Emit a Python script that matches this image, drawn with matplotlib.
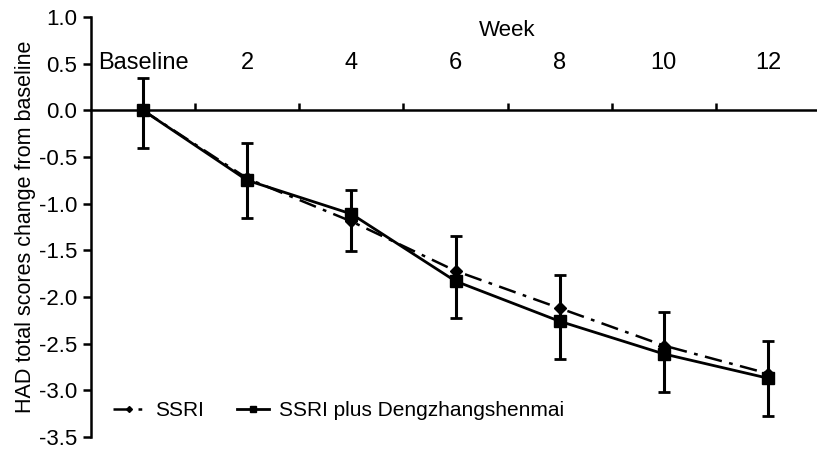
import numpy as np
import matplotlib.pyplot as plt
from matplotlib.ticker import FixedLocator, NullLocator, FormatStrFormatter

plt.rcParams['font.family'] = ['Liberation Sans', 'DejaVu Sans']
plt.rcParams['axes.unicode_minus'] = False

weeks = ['Baseline', '2', '4', '6', '8', '10', '12']
ssri = [0.0, -0.73, -1.19, -1.72, -2.12, -2.52, -2.82]
ssri_plus = [0.0, -0.75, -1.11, -1.83, -2.26, -2.61, -2.87]
err_low = [0.40, 0.40, 0.40, 0.40, 0.40, 0.41, 0.40]
err_high = [0.35, 0.40, 0.26, 0.48, 0.50, 0.45, 0.40]

x = np.arange(1, len(weeks) + 1)

fig = plt.figure(figsize=(8.17, 4.51), dpi=100)
ax = fig.add_axes([91 / 817, 14 / 451, 729 / 817, 420 / 451])

ax.plot(x, ssri, color='black', lw=1.8, linestyle=(0, (7, 3, 1.5, 3)),
        marker='D', markersize=6, label='SSRI')
ax.errorbar(x, ssri_plus, yerr=[err_low, err_high], color='black', lw=2,
            fmt='none', capsize=4.5, elinewidth=2.2, capthick=2)
ax.plot(x, ssri_plus, color='black', lw=2, marker='s', markersize=8,
        label='SSRI plus Dengzhangshenmai')

ax.set_xlim(0.5, 7.5)
ax.set_ylim(-3.5, 1.0)
ax.set_yticks(np.arange(-3.5, 1.01, 0.5))
ax.yaxis.set_major_formatter(FormatStrFormatter('%.1f'))
ax.tick_params(axis='y', direction='out', length=6, width=1.8, labelsize=16, pad=4)

ax.spines['top'].set_visible(False)
ax.spines['right'].set_visible(False)
ax.spines['left'].set_linewidth(1.8)
ax.spines['bottom'].set_linewidth(1.8)
ax.spines['bottom'].set_position(('data', 0))

ax.xaxis.set_major_locator(NullLocator())
ax.xaxis.set_minor_locator(FixedLocator(x[:-1] + 0.5))
ax.tick_params(axis='x', which='minor', direction='in', length=5, width=1.8,
               labelbottom=False)

for xi, lab in zip(x, weeks):
    ax.text(xi, 0.51, lab, ha='center', va='center', fontsize=17)
ax.text(4.5, 0.86, 'Week', ha='center', va='center', fontsize=16)

ax.set_ylabel('HAD total scores change from baseline', fontsize=15.5, labelpad=2)

ax.legend(loc='lower left', bbox_to_anchor=(0.005, -0.005), ncol=2, frameon=False,
          fontsize=15, handlelength=1.5, columnspacing=1.6, handletextpad=0.5,
          markerscale=0.5)

fig.savefig('out.png', dpi=100)
